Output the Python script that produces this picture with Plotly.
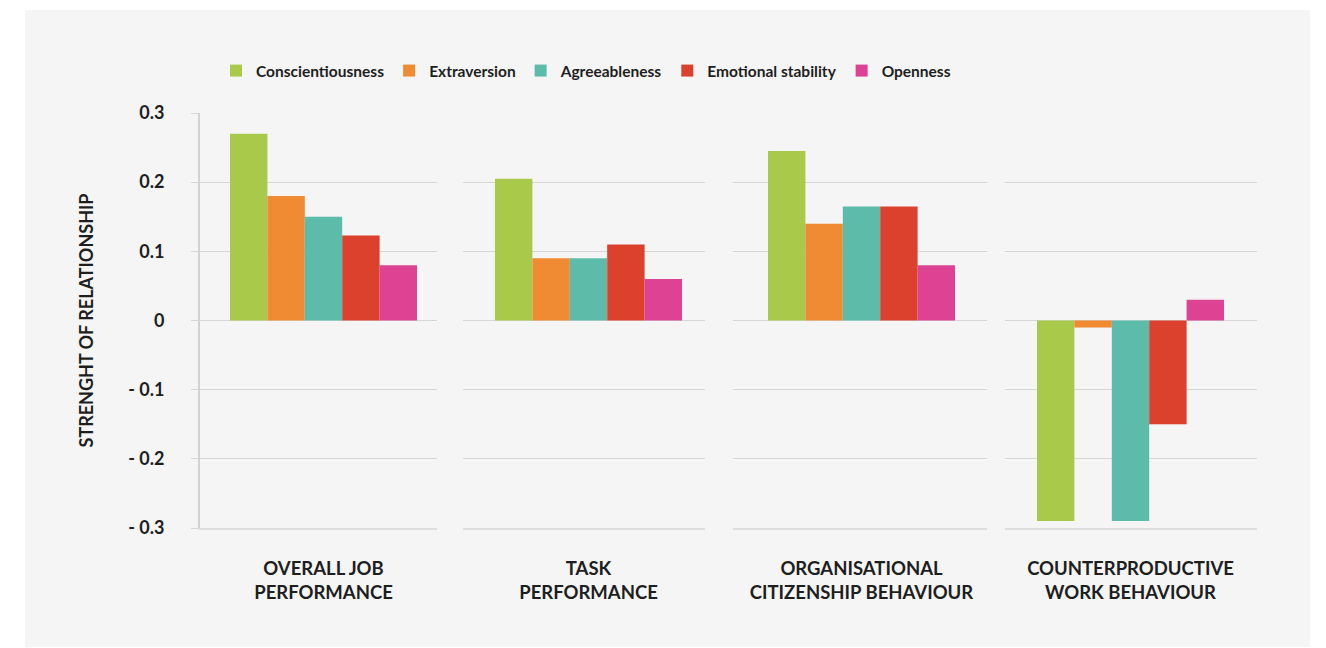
import plotly.graph_objects as go
from plotly.subplots import make_subplots

categories = ["OVERALL JOB<br>PERFORMANCE", "TASK<br>PERFORMANCE",
              "ORGANISATIONAL<br>CITIZENSHIP BEHAVIOUR", "COUNTERPRODUCTIVE<br>WORK BEHAVIOUR"]
traits = ["Conscientiousness", "Extraversion", "Agreeableness", "Emotional stability", "Openness"]
colors = ["#a9c94b", "#f08a33", "#5dbca9", "#db412d", "#dd4392"]

conscientiousness = [0.27, 0.205, 0.245, -0.29]
extraversion = [0.18, 0.09, 0.14, -0.01]
agreeableness = [0.15, 0.09, 0.165, -0.29]
emotional_stability = [0.123, 0.11, 0.165, -0.15]
openness = [0.08, 0.06, 0.08, 0.03]
series = [conscientiousness, extraversion, agreeableness, emotional_stability, openness]

y_tickvals = [0.3, 0.2, 0.1, 0, -0.1, -0.2, -0.3]
y_ticktext = ["0.3", "0.2", "0.1", "0", "- 0.1", "- 0.2", "- 0.3"]

# page offset (body margin) of 8px
OFF = 8
W, H = 1326 - 16, 648 - 8
plot_left, plot_right, plot_top, plot_bottom = 200, 1257, 113, 528
L = plot_left - OFF
T = plot_top - OFF
pw = plot_right - plot_left
ph = plot_bottom - plot_top
R = W - L - pw
B = H - T - ph

# panel extents (screen px) and bar-group centres
panels = [(200, 437), (463, 705), (733, 987), (1005, 1257)]
group_centres = [323.5, 588.5, 861.5, 1130.5]
group_px = 187
bargap = 0.25
k = group_px / (1 - bargap)

fig = make_subplots(rows=1, cols=4, shared_yaxes=True)

FONT = "Lato"
TXT = "#1e1e1e"
for ci, cat in enumerate(categories):
    for ti, (name, vals) in enumerate(zip(traits, series)):
        fig.add_trace(go.Bar(
            x=[cat], y=[vals[ci]], name=name, marker_color=colors[ti],
            marker_line_width=0, legendgroup=name, showlegend=(ci == 0),
            hovertemplate=name + ": %{y}<extra></extra>"),
            row=1, col=ci + 1)

grid_col = "#d6d6d6"
for ci in range(4):
    x0, x1 = panels[ci]
    c = group_centres[ci]
    fig.update_xaxes(row=1, col=ci + 1,
                     domain=[(x0 - plot_left) / pw, (x1 - plot_left) / pw],
                     range=[-(c - x0) / k, (x1 - c) / k],
                     showgrid=False, showline=True,
                     linecolor="#dedede", linewidth=2, ticks="",
                     tickfont=dict(family=FONT, size=18.5, color=TXT, weight="bold"),
                     ticklabelstandoff=23, fixedrange=True)
    fig.update_yaxes(row=1, col=ci + 1, range=[-0.3, 0.3], tickvals=y_tickvals,
                     showgrid=True, gridcolor=grid_col, gridwidth=1, zeroline=False,
                     fixedrange=True)

fig.update_yaxes(row=1, col=1, ticktext=y_ticktext, showline=True, linecolor="#d2d2d2",
                 linewidth=2, ticks="outside", ticklen=7, tickcolor=grid_col,
                 tickfont=dict(family=FONT, size=18, color=TXT, weight="bold"),
                 ticklabelstandoff=23,
                 title=dict(text="STRENGHT OF RELATIONSHIP", standoff=30,
                            font=dict(family=FONT, size=18, color=TXT, weight="bold")))

fig.add_shape(type="rect", xref="paper", yref="paper",
              x0=(25 - plot_left) / pw, x1=(1310 - plot_left) / pw,
              y0=(plot_bottom - 647) / ph, y1=(plot_bottom - 10) / ph,
              fillcolor="#f5f5f5", line_width=0, layer="below")

fig.update_layout(
    width=W, height=H,
    margin=dict(l=L, r=R, t=T, b=B),
    paper_bgcolor="white", plot_bgcolor="rgba(0,0,0,0)",
    barmode="group", bargap=bargap, bargroupgap=0,
    font=dict(family=FONT, color=TXT),
    legend=dict(orientation="h", x=(216 - plot_left) / pw, xanchor="left",
                y=(plot_bottom - 71) / ph, yanchor="middle",
                font=dict(family=FONT, size=15.5, color=TXT, weight="bold"),
                bgcolor="rgba(0,0,0,0)", itemclick=False, itemdoubleclick=False),
)

fig.write_html("out.html")
